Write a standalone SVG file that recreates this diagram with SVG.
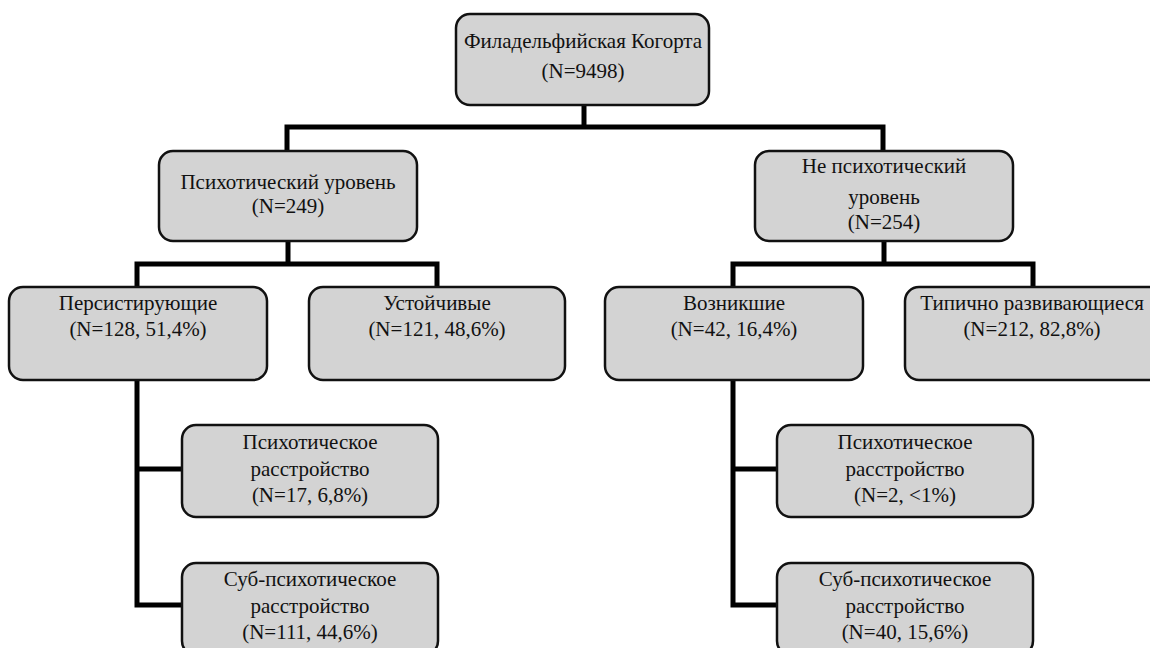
<svg xmlns="http://www.w3.org/2000/svg" width="1150" height="648" viewBox="0 0 1150 648">
<style>
.box{fill:#d3d3d3;stroke:#111;stroke-width:2.5}
text{font-family:'Liberation Serif','Times New Roman',Times,serif;font-size:21px;fill:#111;text-anchor:middle}
.c{fill:none;stroke:#000;stroke-width:5;stroke-linejoin:miter;stroke-linecap:butt}
</style>
<rect width="1150" height="648" fill="#fff"/>
<g id="connectors">
<path class="c" d="M584 105V127"/>
<path class="c" d="M287 151V127H883V151"/>
<path class="c" d="M288 241V264"/>
<path class="c" d="M137 287V264H437V287"/>
<path class="c" d="M884 241V264"/>
<path class="c" d="M733 287V264H1033V287"/>
<path class="c" d="M137 380V605H182"/>
<path class="c" d="M137 469H182"/>
<path class="c" d="M733 380V605H777"/>
<path class="c" d="M733 469H777"/>
</g>
<g id="n-root" font-family="Liberation Serif, serif">
<rect class="box" x="456" y="14" width="253" height="91" rx="14"/>
<text x="583" y="48">Филадельфийская Когорта</text>
<text x="583" y="78">(N=9498)</text>
</g>
<g id="n-psy">
<rect class="box" x="159" y="151" width="258" height="90" rx="14"/>
<text x="288" y="189">Психотический уровень</text>
<text x="288" y="213">(N=249)</text>
</g>
<g id="n-nonpsy">
<rect class="box" x="755" y="151" width="258" height="90" rx="14"/>
<text x="884" y="173">Не психотический</text>
<text x="884" y="204">уровень</text>
<text x="884" y="229">(N=254)</text>
</g>
<g id="n-persist">
<rect class="box" x="9" y="287" width="258" height="93" rx="14"/>
<text x="138" y="310">Персистирующие</text>
<text x="138" y="336">(N=128, 51,4%)</text>
</g>
<g id="n-stable">
<rect class="box" x="309" y="287" width="256" height="93" rx="14"/>
<text x="437" y="310">Устойчивые</text>
<text x="437" y="336">(N=121, 48,6%)</text>
</g>
<g id="n-emerged">
<rect class="box" x="605" y="287" width="258" height="93" rx="14"/>
<text x="734" y="310">Возникшие</text>
<text x="734" y="336">(N=42, 16,4%)</text>
</g>
<g id="n-typical">
<rect class="box" x="905" y="287" width="258" height="93" rx="14"/>
<text x="1032" y="310">Типично развивающиеся</text>
<text x="1032" y="336">(N=212, 82,8%)</text>
</g>
<g id="n-persist-psy">
<rect class="box" x="182" y="425" width="256" height="92" rx="14"/>
<text x="310" y="449">Психотическое</text>
<text x="310" y="476">расстройство</text>
<text x="310" y="502">(N=17, 6,8%)</text>
</g>
<g id="n-persist-sub">
<rect class="box" x="182" y="563" width="256" height="92" rx="14"/>
<text x="310" y="586">Суб-психотическое</text>
<text x="310" y="613">расстройство</text>
<text x="310" y="639">(N=111, 44,6%)</text>
</g>
<g id="n-emerged-psy">
<rect class="box" x="777" y="425" width="256" height="92" rx="14"/>
<text x="905" y="449">Психотическое</text>
<text x="905" y="476">расстройство</text>
<text x="905" y="502">(N=2, &lt;1%)</text>
</g>
<g id="n-emerged-sub">
<rect class="box" x="777" y="563" width="256" height="92" rx="14"/>
<text x="905" y="586">Суб-психотическое</text>
<text x="905" y="613">расстройство</text>
<text x="905" y="639">(N=40, 15,6%)</text>
</g>
</svg>
